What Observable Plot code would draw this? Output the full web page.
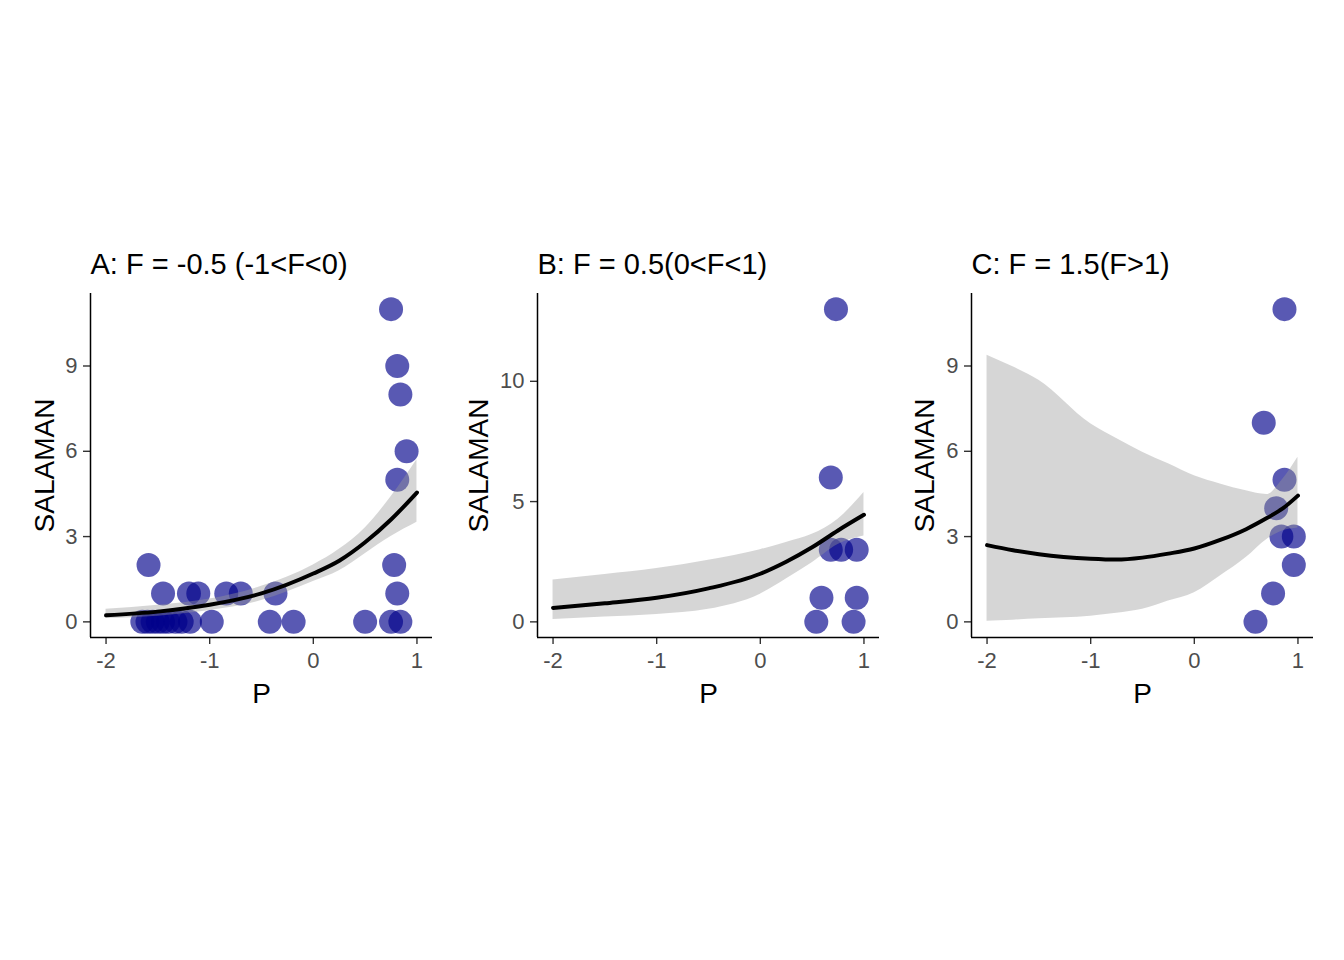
<!DOCTYPE html>
<html><head><meta charset="utf-8">
<script src="https://cdn.jsdelivr.net/npm/d3@7"></script>
<script src="https://cdn.jsdelivr.net/npm/@observablehq/plot@0.6"></script>
<style>
body{margin:0;background:#fff;width:1344px;height:960px;overflow:hidden;font-family:"Liberation Sans",Arial,sans-serif}
#wrap{position:relative;width:1344px;height:960px;background:#fff}
#wrap svg{position:absolute;overflow:visible}
</style></head><body><div id="wrap"></div>
<script>
// ---- data ----
const panelTitles = ["A: F = -0.5 (-1<F<0)", "B: F = 0.5(0<F<1)", "C: F = 1.5(F>1)"];
const xLabel = "P";
const yLabel = "SALAMAN";
const xTicks = [-2, -1, 0, 1];
const yTicksA = [0, 3, 6, 9];
const yTicksB = [0, 5, 10];
const yTicksC = [0, 3, 6, 9];

// observed points
const pointsAx = [0.75, 0.81, 0.84, 0.90, 0.81, 0.78, 0.81, 0.75, 0.84, 0.50, -0.19, -0.42, -0.365, -1.59, -1.45, -1.20, -1.11, -0.84, -0.70, -0.98, -1.65, -1.60, -1.55, -1.50, -1.45, -1.40, -1.33, -1.27, -1.19];
const pointsAy = [11, 9, 8, 6, 5, 2, 1, 0, 0, 0, 0, 0, 1, 2, 1, 1, 1, 1, 1, 0, 0, 0, 0, 0, 0, 0, 0, 0, 0];
const pointsBx = [0.73, 0.68, 0.68, 0.78, 0.93, 0.59, 0.93, 0.54, 0.90];
const pointsBy = [13, 6, 3, 3, 3, 1, 1, 0, 0];
const pointsCx = [0.87, 0.67, 0.87, 0.79, 0.84, 0.96, 0.96, 0.76, 0.59];
const pointsCy = [11, 7, 5, 4, 3, 3, 2, 1, 0];

// fitted curves
const fitAx  = [-2, -1.5, -1, -0.5, 0, 0.25, 0.5, 0.75, 1];
const fitAy  = [0.23, 0.36, 0.60, 1.00, 1.70, 2.15, 2.80, 3.60, 4.55];
const fitAlo = [0.12, 0.20, 0.40, 0.75, 1.42, 1.80, 2.40, 3.00, 3.50];
const fitAhi = [0.44, 0.58, 0.80, 1.25, 2.00, 2.55, 3.30, 4.40, 5.70];

const fitBx  = [-2, -1.5, -1, -0.5, 0, 0.25, 0.5, 0.75, 1];
const fitBy  = [0.58, 0.77, 1.00, 1.39, 2.00, 2.50, 3.10, 3.80, 4.45];
const fitBlo = [0.10, 0.20, 0.31, 0.52, 1.15, 1.78, 2.46, 3.22, 3.57];
const fitBhi = [1.74, 1.97, 2.22, 2.56, 3.00, 3.30, 3.64, 4.27, 5.38];

const fitCx  = [-2, -1.75, -1.5, -1, -0.75, -0.5, -0.25, 0, 0.25, 0.5, 0.7, 0.85, 1];
const fitCy  = [2.70, 2.52, 2.38, 2.22, 2.19, 2.26, 2.40, 2.58, 2.88, 3.26, 3.65, 3.98, 4.44];
const fitClo = [0.02, 0.06, 0.11, 0.20, 0.30, 0.44, 0.73, 1.02, 1.61, 2.26, 2.90, 3.20, 3.30];
const fitChi = [9.38, 8.97, 8.50, 6.97, 6.45, 5.97, 5.56, 5.14, 4.85, 4.61, 4.48, 5.00, 5.79];

// ---- drawing ----
const wrap = document.getElementById("wrap");
const FONT = "'Liberation Sans', Arial, sans-serif";
const fmt = d => String(d);

function panel({title, px, py, fx, fy, flo, fhi, ydom, yticks, frameLeft, ylabOffset}) {
  const ML = 86, MR = 4, MT = 60, MB = 80, PW = 342, PH = 344;
  const pts = px.map((x, i) => ({x, y: py[i]}));
  const fit = fx.map((x, i) => ({x, y: fy[i], lo: flo[i], hi: fhi[i]}));
  const xdom = [-2.15, 1.15];
  const svg = Plot.plot({
    width: ML + PW + MR, height: MT + PH + MB,
    marginLeft: ML, marginRight: MR, marginTop: MT, marginBottom: MB,
    style: {background: "transparent", fontFamily: FONT, overflow: "visible"},
    x: {domain: xdom},
    y: {domain: ydom},
    marks: [
      Plot.dot(pts, {x: "x", y: "y", r: 12, fill: "#00008B", fillOpacity: 0.65}),
      Plot.areaY(fit, {x: "x", y1: "lo", y2: "hi", fill: "#999999", fillOpacity: 0.4, curve: "monotone-x"}),
      Plot.line(fit, {x: "x", y: "y", stroke: "black", strokeWidth: 4, curve: "monotone-x"}),
      Plot.axisX({ticks: xTicks, tickFormat: fmt, tickSize: 7, tickPadding: 8, fontSize: 22, fill: "#4d4d4d", stroke: "#333333", strokeWidth: 1.4, label: null}),
      Plot.axisY({ticks: yticks, tickFormat: fmt, tickSize: 7, tickPadding: 6, fontSize: 22, fill: "#4d4d4d", stroke: "#333333", strokeWidth: 1.4, label: null}),
      Plot.ruleX([xdom[0]], {stroke: "black", strokeWidth: 1.5}),
      Plot.ruleY([ydom[0]], {stroke: "black", strokeWidth: 1.5}),
      Plot.text([title], {frameAnchor: "top-left", text: d => d, dy: -20, textAnchor: "start", lineAnchor: "bottom", fontSize: 29, fill: "black"}),
      Plot.text([yLabel], {frameAnchor: "left", text: d => d, dx: -ylabOffset, rotate: -90, textAnchor: "middle", lineAnchor: "bottom", fontSize: 28, fill: "black"}),
      Plot.text([xLabel], {frameAnchor: "bottom", text: d => d, dy: 65, textAnchor: "middle", lineAnchor: "bottom", fontSize: 28, fill: "black"})
    ]
  });
  svg.style.left = (frameLeft - ML) + "px";
  svg.style.top = (293 - MT) + "px";
  wrap.appendChild(svg);
}

panel({title: panelTitles[0], px: pointsAx, py: pointsAy, fx: fitAx, fy: fitAy, flo: fitAlo, fhi: fitAhi,
  ydom: [-0.55, 11.55], yticks: yTicksA, frameLeft: 90, ylabOffset: 37});
panel({title: panelTitles[1], px: pointsBx, py: pointsBy, fx: fitBx, fy: fitBy, flo: fitBlo, fhi: fitBhi,
  ydom: [-0.65, 13.65], yticks: yTicksB, frameLeft: 537, ylabOffset: 50});
panel({title: panelTitles[2], px: pointsCx, py: pointsCy, fx: fitCx, fy: fitCy, flo: fitClo, fhi: fitChi,
  ydom: [-0.55, 11.55], yticks: yTicksC, frameLeft: 971, ylabOffset: 38});
</script></body></html>
